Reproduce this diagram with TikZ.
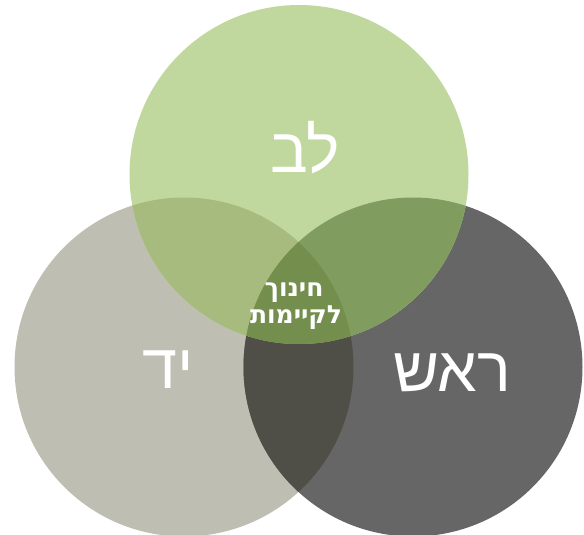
\documentclass[tikz,border=0pt]{standalone}
\usepackage{fontspec}
\setmainfont{Liberation Sans}
\newfontfamily\hebfont[Script=Hebrew]{Liberation Sans}
\newfontfamily\hebbold[Script=Hebrew]{DejaVu Sans Bold}
\TeXXeTstate=1
\definecolor{cTop}{HTML}{C0D89D}
\definecolor{cLeft}{HTML}{BFBEB2}
\definecolor{cRight}{HTML}{666666}
\definecolor{cTL}{HTML}{A7BB7F}
\definecolor{cTR}{HTML}{809C5E}
\definecolor{cLR}{HTML}{4F4F47}
\definecolor{cAll}{HTML}{748F4D}
\tikzset{
  ring/.style={circle, minimum size=339pt, inner sep=0pt, draw=none},
  bigtxt/.style={text=white, font=\hebfont\fontsize{63}{70}\selectfont},
  midtxt/.style={text=white, font=\hebbold\fontsize{25}{26}\selectfont, inner sep=0pt, anchor=base}
}
\begin{document}
\begin{tikzpicture}[x=1pt,y=-1pt]
\useasboundingbox (0,0) rectangle (584,535);
\node[ring, fill=cLeft] (L) at (184,367) {};
\node[ring, fill=cRight] (R) at (413,367) {};
\node[ring, fill=cTop] (T) at (299,174.5) {};
\begin{scope}
  \clip (L.center) circle (169.5);
  \fill[cLR] (R.center) circle (169.5);
\end{scope}
\begin{scope}
  \clip (T.center) circle (169.5);
  \fill[cTL] (L.center) circle (169.5);
\end{scope}
\begin{scope}
  \clip (T.center) circle (169.5);
  \fill[cTR] (R.center) circle (169.5);
\end{scope}
\begin{scope}
  \clip (T.center) circle (169.5);
  \clip (L.center) circle (169.5);
  \fill[cAll] (R.center) circle (169.5);
\end{scope}
\node[bigtxt] (lev) at (305,148) {\beginR לב\endR};
\node[bigtxt] (yad) at (168,370) {\beginR יד\endR};
\node[bigtxt] (rosh) at (452,373) {\beginR ראש\endR};
\node[midtxt] (mid1) at (294,296) {\beginR חינוך\endR};
\node[midtxt] (mid2) at (296,323) {\beginR לקיימות\endR};
\end{tikzpicture}
\end{document}
